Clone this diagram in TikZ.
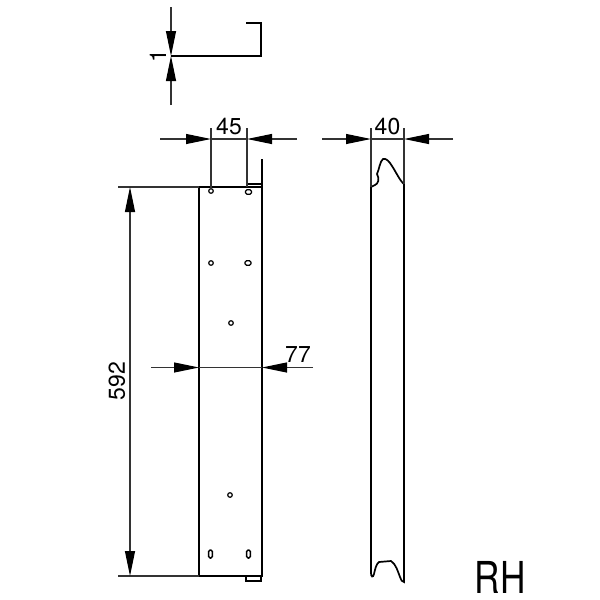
\documentclass[tikz,border=0pt]{standalone}
\usepackage{fontspec}
\setmainfont{TeX Gyre Heros}
\usetikzlibrary{arrows.meta}
\begin{document}
\begin{tikzpicture}[
  x=0.5pt,y=-0.5pt,
  >={Triangle[length=12.5pt,width=5pt,sharp,black]},
  outline/.style={line width=0.85pt,black,line join=miter},
  extline/.style={line width=0.55pt,black!80},
  dimline/.style={line width=0.55pt,black!80,->},
  hole/.style={line width=0.6pt,black},
  dimtext/.style={font=\fontsize{11.5}{11.5}\selectfont,inner sep=0pt}]
  \useasboundingbox (0,0) rectangle (600,600);
  % section at the top
  \coordinate (secl) at (171,56);
  \coordinate (secc) at (261,56);
  \coordinate (sect) at (261,23);
  \coordinate (sece) at (246,23);
  \draw[dimline] (171,7) -- (secl);
  \draw[dimline] (171,105) -- (secl);
  \draw[line width=0.7pt] (secl) -- (200,56);
  \draw[outline] (200,56) -- (secc) -- (sect) -- (sece);
  \node[dimtext,rotate=90] (thick) at (158,56) {1};
  % front panel
  \coordinate (pnw) at (199,187);
  \coordinate (pne) at (262,187);
  \coordinate (psw) at (199,576);
  \coordinate (pse) at (262,576);
  \draw[outline] (pnw) -- (pne) -- (pse) -- (psw) -- cycle;
  \draw[outline] (262,159) -- (pne);
  \draw[line width=0.6pt] (247,184) -- (262,184);
  \draw[line width=0.7pt] (246,576) -- (246,581) -- (261,581) -- (261,576);
  \foreach \hx/\hy in {211/191,211/263,231/323,230/495}
    \draw[hole] (\hx,\hy) circle (1.15pt);
  \foreach \hx/\hy in {248.5/192,248/263}
    \draw[hole,rounded corners=0.7pt] (\hx-3,\hy-2.2) rectangle (\hx+3,\hy+2.2);
  \foreach \hx/\hy in {210.5/554,248.5/554}
    \draw[line width=0.75pt,rounded corners=0.7pt] (\hx-1.8,\hy-4) rectangle (\hx+1.8,\hy+4);
  % 592
  \draw[extline] (118,187) -- (pnw);
  \draw[extline] (118,576) -- (psw);
  \coordinate (hmid) at (130,381);
  \draw[dimline] (hmid) -- (130,187);
  \draw[dimline] (hmid) -- (130,576);
  \node[dimtext,rotate=90] (hgt) at (117,381) {592};
  % 45
  \coordinate (a45) at (211,139);
  \coordinate (b45) at (247,139);
  \draw[extline] (211,128) -- (211,189);
  \draw[extline] (247,128) -- (247,187);
  \draw[dimline] (160,139) -- (a45);
  \draw[dimline] (297,139) -- (b45);
  \draw[extline] (a45) -- (b45);
  \node[dimtext] (w45) at (229,126.5) {45};
  % 77
  \coordinate (a77) at (199,367.5);
  \coordinate (b77) at (262,367.5);
  \draw[dimline] (151,367.5) -- (a77);
  \draw[dimline] (313,367.5) -- (b77);
  \draw[extline] (a77) -- (b77);
  \node[dimtext] (w77) at (298,355) {77};
  % side view
  \draw[outline] (371,187) -- (371,573)
    .. controls (371,577) and (373,578) .. (374,574)
    .. controls (375,570) and (376,564) .. (379,562)
    -- (391,561)
    .. controls (396,564) and (398,572) .. (400,577)
    .. controls (401,580) and (402,582) .. (404,582)
    -- (404,184)
    .. controls (400,181) and (396,172) .. (392,166)
    .. controls (389,161) and (386,158) .. (383,159)
    .. controls (380,161) and (379,170) .. (377,174)
    .. controls (380,179) and (378,184) .. (375,185)
    -- cycle;
  % 40
  \coordinate (a40) at (371,139);
  \coordinate (b40) at (404,139);
  \draw[extline] (371,128) -- (371,187);
  \draw[extline] (404,128) -- (404,184);
  \draw[dimline] (322,139) -- (a40);
  \draw[dimline] (453,139) -- (b40);
  \draw[extline] (a40) -- (b40);
  \node[dimtext] (w40) at (387.5,126.5) {40};
  \node[inner sep=0pt,xscale=0.8,font=\fontsize{22}{22}\selectfont] (rh) at (500,577) {RH};
\end{tikzpicture}
\end{document}
